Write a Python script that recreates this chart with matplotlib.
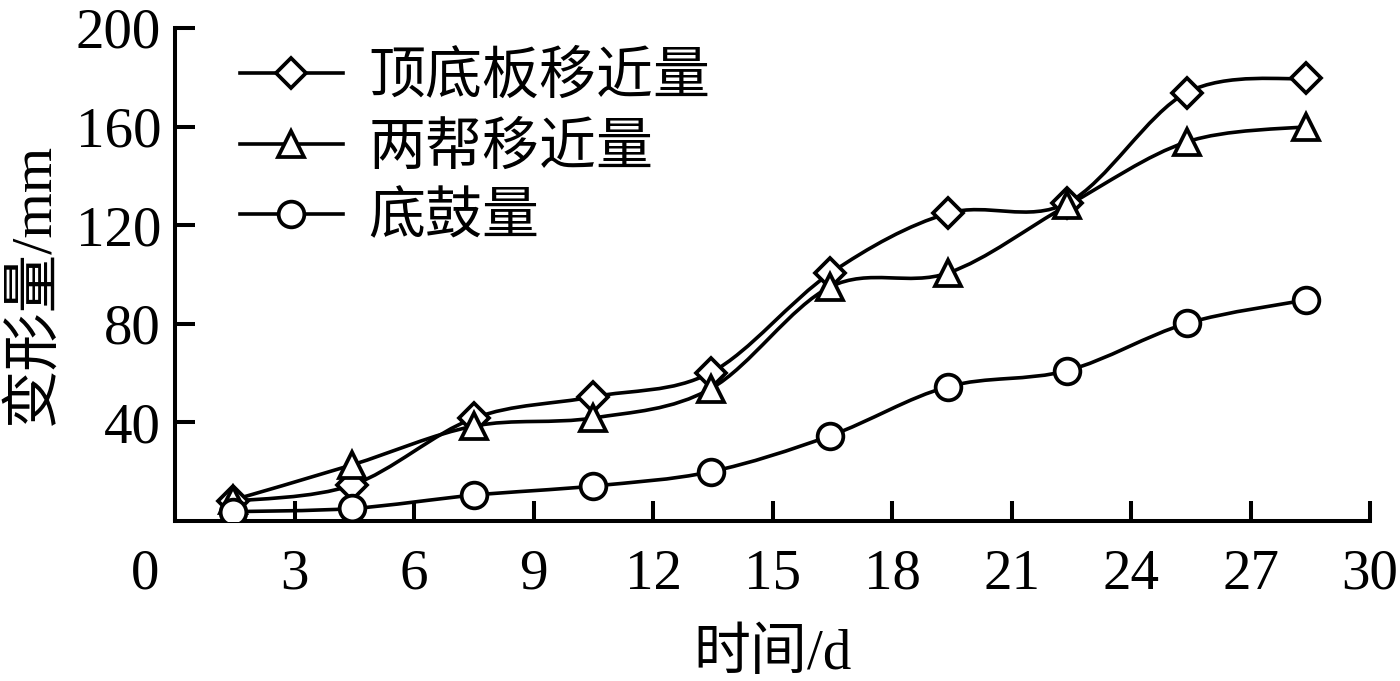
import numpy as np
import matplotlib
matplotlib.use("Agg")
import matplotlib.pyplot as plt
from matplotlib.path import Path
from matplotlib.patches import PathPatch
from matplotlib.lines import Line2D
from matplotlib.transforms import ScaledTranslation

plt.rcParams['font.family'] = ['Liberation Serif', 'Noto Sans CJK SC']

# data
days = [1.45, 4.45, 7.5, 10.5, 13.45, 16.45, 19.4, 22.4, 25.4, 28.4]
roof_floor = [8, 14.6, 41.7, 50.4, 60.2, 100.5, 124.8, 129, 173.8, 179.6]
two_sides = [8.5, 22.8, 38.5, 41.8, 53.7, 95, 100.6, 128, 153.8, 160]
floor_heave = [3.8, 5.1, 10.5, 14.2, 20, 34.6, 54.5, 61, 80.2, 89.7]
labels = ["顶底板移近量", "两帮移近量", "底鼓量"]
markers = ["D", "^", "o"]
msizes = [15, 19, 18.5]
xticks = [0, 3, 6, 9, 12, 15, 18, 21, 24, 27, 30]
yticks = [40, 80, 120, 160, 200]


def smooth_path(x, y):
    # Excel-like smoothed line: Catmull-Rom segments as cubic Bezier curves
    p = np.column_stack([x, y]).astype(float)
    ext = np.vstack([p[0], p, p[-1]])
    verts = [p[0]]
    codes = [Path.MOVETO]
    for i in range(len(p) - 1):
        p0, p1, p2, p3 = ext[i], ext[i + 1], ext[i + 2], ext[i + 3]
        c1 = p1 + (p2 - p0) / 6
        c2 = p2 - (p3 - p1) / 6
        verts += [c1, c2, p2]
        codes += [Path.CURVE4] * 3
    return Path(verts, codes)


fig = plt.figure(figsize=(14, 6.81), dpi=100)
ax = fig.add_axes([0.125, 0.2349, 0.8536, 0.724])

lw = 2.6
handles = []
for ys, m, ms, lab in zip([roof_floor, two_sides, floor_heave], markers, msizes, labels):
    ax.add_patch(PathPatch(smooth_path(days, ys), fill=False, edgecolor="black", lw=lw, zorder=2))
    ax.plot(days, ys, ls="none", marker=m, ms=ms, mfc="white", mec="black", mew=2.7, zorder=3)
    handles.append(Line2D([], [], color="black", lw=lw, marker=m, ms=ms,
                          mfc="white", mec="black", mew=2.7, label=lab))

ax.set_xlim(0, 30)
ax.set_ylim(0, 200)
ax.set_xticks(xticks)
ax.set_xticklabels([str(t) for t in xticks])
ax.set_yticks(yticks)
ax.set_yticklabels([str(t) for t in yticks])
for s in ["top", "right"]:
    ax.spines[s].set_visible(False)
for s in ["left", "bottom"]:
    ax.spines[s].set_linewidth(2.9)
ax.tick_params(direction="in", length=14.5, width=2.9, labelsize=41)
ax.tick_params(axis="x", pad=20)
ax.tick_params(axis="y", pad=10)

# the "0" sits left of the origin
lab0 = ax.get_xticklabels()[0]
lab0.set_transform(lab0.get_transform() + ScaledTranslation(-30 / 100, 0, fig.dpi_scale_trans))

ax.set_xlabel("时间/d", fontsize=41, labelpad=20)
ax.set_ylabel("变形量/mm", fontsize=42, labelpad=11)
ax.yaxis.label.set_y(0.48)

ax.legend(handles=handles, loc="upper left", bbox_to_anchor=(240 / 1400, 1 - 52 / 681),
          bbox_transform=fig.transFigure, frameon=False, fontsize=41,
          handlelength=1.8, handletextpad=0.45, labelspacing=0.3, borderpad=0,
          borderaxespad=0)

fig.savefig("out.png", dpi=100)
